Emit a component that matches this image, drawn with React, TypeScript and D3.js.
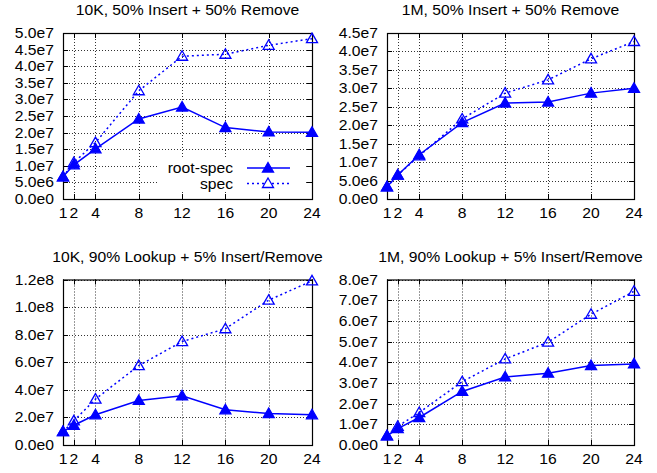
import React, { useEffect, useRef } from "react";
import * as d3 from "d3";

const WIDTH = 657;
const HEIGHT = 473;
const FONT = "'Liberation Sans', Arial, sans-serif";
const BLUE = "#0000ff";
const STRETCH = 1.12; // gnuplot text looks a bit wide

const threads = [1, 2, 4, 8, 12, 16, 20, 24];
const seriesNames = ["root-spec", "spec"];

const titles = [
  "10K, 50% Insert + 50% Remove",
  "1M, 50% Insert + 50% Remove",
  "10K, 90% Lookup + 5% Insert/Remove",
  "1M, 90% Lookup + 5% Insert/Remove",
];

const yMaxes = [5e7, 4.5e7, 1.2e8, 8e7];
const yTickSteps = [5e6, 5e6, 2e7, 1e7];

// throughput per thread count
const rootSpec10kIns = [6.7e6, 1.03e7, 1.51e7, 2.41e7, 2.77e7, 2.15e7, 2.02e7, 2.01e7];
const spec10kIns = [6.7e6, 1.1e7, 1.7e7, 3.26e7, 4.3e7, 4.36e7, 4.63e7, 4.83e7];
const rootSpec1mIns = [3.3e6, 6.5e6, 1.2e7, 2.07e7, 2.6e7, 2.63e7, 2.87e7, 3.0e7];
const spec1mIns = [3.3e6, 6.5e6, 1.17e7, 2.17e7, 2.87e7, 3.23e7, 3.8e7, 4.27e7];
const rootSpec10kLookup = [9.7e6, 1.43e7, 2.19e7, 3.23e7, 3.57e7, 2.55e7, 2.28e7, 2.19e7];
const spec10kLookup = [9.7e6, 1.75e7, 3.33e7, 5.76e7, 7.5e7, 8.43e7, 1.05e8, 1.19e8];
const rootSpec1mLookup = [4.4e6, 7.9e6, 1.33e7, 2.59e7, 3.29e7, 3.47e7, 3.84e7, 3.92e7];
const spec1mLookup = [4.4e6, 9.0e6, 1.57e7, 3.06e7, 4.16e7, 4.97e7, 6.32e7, 7.43e7];

const panelSeries = [
  [rootSpec10kIns, spec10kIns],
  [rootSpec1mIns, spec1mIns],
  [rootSpec10kLookup, spec10kLookup],
  [rootSpec1mLookup, spec1mLookup],
];

// plot frames (pixels)
const FRAMES = [
  { left: 63, right: 312, top: 33, bottom: 199 },
  { left: 387, right: 634, top: 33, bottom: 199 },
  { left: 63, right: 312, top: 279.5, bottom: 445 },
  { left: 387, right: 634, top: 279.5, bottom: 445 },
];

const fmt = (v: number) => d3.format(".1e")(v).replace("e+", "e");

const triangle = (x: number, y: number) =>
  `M${x},${y - 5.5}L${x + 5.5},${y + 4}L${x - 5.5},${y + 4}Z`;

const label = (g: any, x: number, y: number, text: string, anchor: string, size = 14) =>
  g
    .append("text")
    .attr("transform", `translate(${x},${y}) scale(${STRETCH},1)`)
    .attr("text-anchor", anchor)
    .style("font-family", FONT)
    .style("font-size", `${size}px`)
    .attr("fill", "#000")
    .text(text);

export default function App() {
  const svgRef = useRef<SVGSVGElement>(null);

  useEffect(() => {
    const svg = d3.select(svgRef.current);
    svg.selectAll("*").remove();

    svg.append("rect").attr("width", WIDTH).attr("height", HEIGHT).attr("fill", "#fff");

    FRAMES.forEach((f, pi) => {
      const g = svg.append("g");
      const x = d3.scaleLinear().domain([1, 24]).range([f.left, f.right]);
      const y = d3.scaleLinear().domain([0, yMaxes[pi]]).range([f.bottom, f.top]);
      const yTicks = d3.range(0, yMaxes[pi] + yTickSteps[pi] / 2, yTickSteps[pi]);

      // Grid
      g.selectAll(".gy")
        .data(yTicks)
        .enter()
        .append("line")
        .attr("x1", f.left)
        .attr("x2", f.right)
        .attr("y1", (d) => Math.round(y(d)) + 0.5)
        .attr("y2", (d) => Math.round(y(d)) + 0.5)
        .attr("stroke", "#333")
        .attr("stroke-width", 1)
        .attr("stroke-dasharray", "1,2");
      g.selectAll(".gx")
        .data(threads)
        .enter()
        .append("line")
        .attr("x1", (d) => Math.round(x(d)) + 0.5)
        .attr("x2", (d) => Math.round(x(d)) + 0.5)
        .attr("y1", f.top)
        .attr("y2", f.bottom)
        .attr("stroke", "#333")
        .attr("stroke-width", 1)
        .attr("stroke-dasharray", "1,2");

      // Legend box (opaque key) only in first panel
      if (pi === 0) {
        g.append("rect")
          .attr("x", 157)
          .attr("y", 158)
          .attr("width", 147)
          .attr("height", 34)
          .attr("fill", "#fff");
      }

      // Ticks (inward, mirrored)
      yTicks.forEach((t) => {
        const yy = Math.round(y(t)) + 0.5;
        g.append("line").attr("x1", f.left).attr("x2", f.left + 5).attr("y1", yy).attr("y2", yy).attr("stroke", "#000");
        g.append("line").attr("x1", f.right - 5).attr("x2", f.right).attr("y1", yy).attr("y2", yy).attr("stroke", "#000");
        label(g, f.left - 9, y(t) + 5, fmt(t), "end");
      });
      threads.forEach((t) => {
        const xx = Math.round(x(t)) + 0.5;
        g.append("line").attr("x1", xx).attr("x2", xx).attr("y1", f.bottom).attr("y2", f.bottom - 5).attr("stroke", "#000");
        g.append("line").attr("x1", xx).attr("x2", xx).attr("y1", f.top).attr("y2", f.top + 5).attr("stroke", "#000");
        label(g, x(t), f.bottom + 19, String(t), "middle");
      });

      // Frame
      g.append("rect")
        .attr("x", f.left + 0.5)
        .attr("y", f.top + 0.5)
        .attr("width", f.right - f.left)
        .attr("height", f.bottom - f.top)
        .attr("fill", "none")
        .attr("stroke", "#000")
        .attr("stroke-width", 1.2);

      // Title
      label(g, (f.left + f.right) / 2, f.top - 18, titles[pi], "middle");

      // Series
      const line = d3
        .line<number>()
        .x((_, i) => x(threads[i]))
        .y((d) => y(d));

      panelSeries[pi].forEach((vals, si) => {
        g.append("path")
          .datum(vals)
          .attr("fill", "none")
          .attr("stroke", BLUE)
          .attr("stroke-width", 1.5)
          .attr("stroke-dasharray", si === 1 ? "2,3" : null)
          .attr("d", line);
        g.selectAll(`.m${si}`)
          .data(vals)
          .enter()
          .append("path")
          .attr("d", (d, i) => triangle(x(threads[i]), y(d)))
          .attr("fill", si === 0 ? BLUE : "none")
          .attr("stroke", BLUE)
          .attr("stroke-width", 1.3);
      });

      // Legend
      if (pi === 0) {
        seriesNames.forEach((name, si) => {
          const ly = 168 + si * 15.5;
          label(g, 233, ly + 5, name, "end");
          g.append("line")
            .attr("x1", 247)
            .attr("x2", 290)
            .attr("y1", ly)
            .attr("y2", ly)
            .attr("stroke", BLUE)
            .attr("stroke-width", 1.5)
            .attr("stroke-dasharray", si === 1 ? "2,3" : null);
          g.append("path")
            .attr("d", triangle(268, ly))
            .attr("fill", si === 0 ? BLUE : "#fff")
            .attr("stroke", BLUE)
            .attr("stroke-width", 1.3);
        });
      }
    });
  }, []);

  return (
    <svg
      ref={svgRef}
      width={WIDTH}
      height={HEIGHT}
      style={{ position: "absolute", left: 0, top: 0 }}
    ></svg>
  );
}
